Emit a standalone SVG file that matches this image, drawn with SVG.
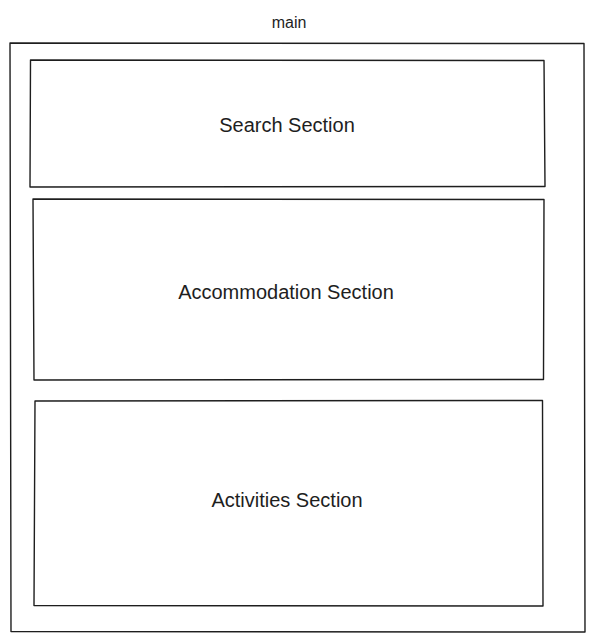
<svg xmlns="http://www.w3.org/2000/svg" width="594" height="641" viewBox="0 0 594 641">
<style>
.box{fill:none;stroke:#1e1e1e;stroke-width:1.4;stroke-linecap:round;stroke-linejoin:round}
.lbl{font-family:"Liberation Sans",Arial,sans-serif;fill:#1e1e1e;text-anchor:middle;dominant-baseline:central}
</style>
<rect width="594" height="641" fill="#ffffff"/>
<g id="main">
<path class="box" d="M10 43 L584 43.5 L585 632 L11 631.5 Z"/>
<text class="lbl" x="289" y="22" font-size="16">main</text>
</g>
<g id="search">
<path class="box" d="M30.5 60 L544 60.5 L545 186.5 L30 187 Z"/>
<text class="lbl" x="287" y="125" font-size="20">Search Section</text>
</g>
<g id="accommodation">
<path class="box" d="M33 199 L544 199.5 L543.5 379.5 L34 380 Z"/>
<text class="lbl" x="286" y="292" font-size="20">Accommodation Section</text>
</g>
<g id="activities">
<path class="box" d="M35 401 L542.5 400.5 L543 606 L34 605.5 Z"/>
<text class="lbl" x="287" y="500" font-size="20">Activities Section</text>
</g>
<g id="connectors"></g>
</svg>
